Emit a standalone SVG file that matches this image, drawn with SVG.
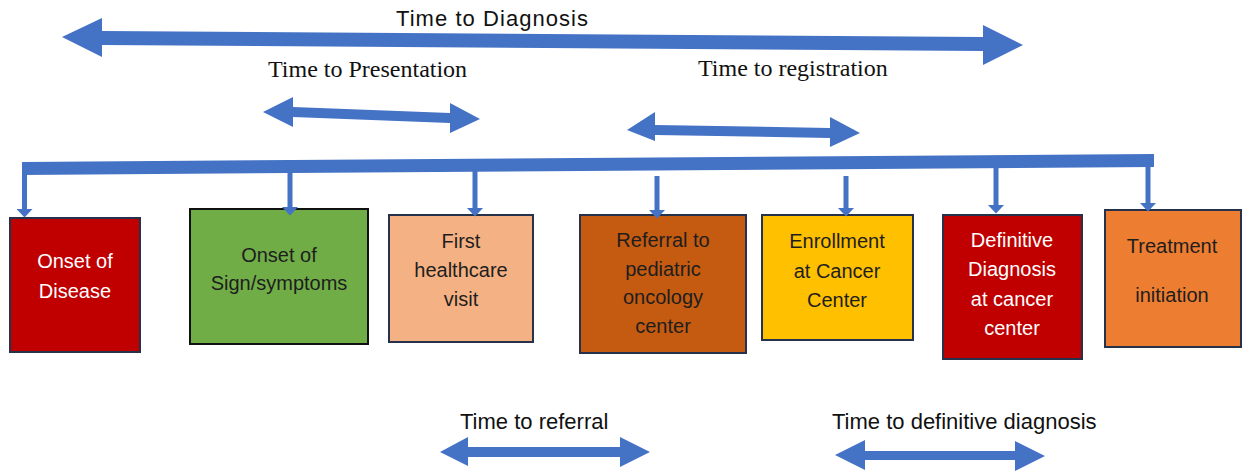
<svg xmlns="http://www.w3.org/2000/svg" width="1243" height="474" viewBox="0 0 1243 474">
<style>
.arw{fill:#4472C4}
.drop{stroke:#4472C4;stroke-width:5;fill:none}
.box{stroke:#26324C;stroke-width:2}
.lbl{font-family:"Liberation Sans",Arial,sans-serif;font-size:20px;text-anchor:middle;fill:#1E1E1E}
.wt{fill:#FFFFFF}
.serif{font-family:"Liberation Serif","Times New Roman",serif;font-size:24px;fill:#111}
.sans{font-family:"Liberation Sans",Arial,sans-serif;font-size:22px;fill:#111}
</style>
<defs>
<marker id="dh" markerUnits="userSpaceOnUse" markerWidth="10" markerHeight="16" refX="0" refY="7" orient="auto" viewBox="0 0 8 14">
<path d="M0,0 L7.5,7 L0,14 Z" fill="#4472C4"/>
</marker>
</defs>
<rect width="1243" height="474" fill="#FFFFFF"/>
<g id="labels">
<text class="sans" x="396" y="26" font-size="23" textLength="192">Time to Diagnosis</text>
<text class="serif" x="268" y="77">Time to Presentation</text>
<text class="serif" x="698" y="76">Time to registration</text>
<text class="sans" x="460" y="429">Time to referral</text>
<text class="sans" x="832" y="429">Time to definitive diagnosis</text>
</g>
<g id="onset-disease">
<rect class="box" x="10" y="218" width="130" height="134" fill="#C00000"/>
<text class="lbl wt" x="75" y="268">Onset of</text>
<text class="lbl wt" x="75" y="298">Disease</text>
</g>
<g id="onset-symptoms">
<rect x="190" y="209" width="178" height="135" fill="#70AD47" stroke="#111" stroke-width="2"/>
<text class="lbl" x="279" y="262">Onset of</text>
<text class="lbl" x="279" y="290">Sign/symptoms</text>
</g>
<g id="first-visit">
<rect class="box" x="389" y="215" width="144" height="127" fill="#F4B183"/>
<text class="lbl" x="461" y="248">First</text>
<text class="lbl" x="461" y="277">healthcare</text>
<text class="lbl" x="461" y="306">visit</text>
</g>
<g id="referral">
<rect class="box" x="580" y="215" width="166" height="138" fill="#C55A11"/>
<text class="lbl" x="663" y="247">Referral to</text>
<text class="lbl" x="663" y="276">pediatric</text>
<text class="lbl" x="663" y="304">oncology</text>
<text class="lbl" x="663" y="333">center</text>
</g>
<g id="enrollment">
<rect class="box" x="762" y="215" width="151" height="125" fill="#FFC000"/>
<text class="lbl" x="837" y="248">Enrollment</text>
<text class="lbl" x="837" y="278">at Cancer</text>
<text class="lbl" x="837" y="307">Center</text>
</g>
<g id="definitive-diagnosis">
<rect class="box" x="943" y="215" width="139" height="144" fill="#C00000"/>
<text class="lbl wt" x="1012" y="247">Definitive</text>
<text class="lbl wt" x="1012" y="276">Diagnosis</text>
<text class="lbl wt" x="1012" y="306">at cancer</text>
<text class="lbl wt" x="1012" y="335">center</text>
</g>
<g id="treatment">
<rect class="box" x="1105" y="210" width="136" height="137" fill="#ED7D31"/>
<text class="lbl" x="1172" y="253">Treatment</text>
<text class="lbl" x="1172" y="302">initiation</text>
</g>
<g id="connectors">
<polygon class="arw" points="62,37 102,18 102,31 983,37 983,25 1023,45 983,65 983,51 102,45 102,57"/>
<polygon class="arw" points="263,112 293,97 293,107 450,113 450,103 480,119 450,133 450,123 293,117 293,127"/>
<polygon class="arw" points="627,130 655,112 655,125 830,128 830,117 860,133 830,147 830,138 655,135 655,141"/>
<polygon class="arw" points="440,452 468,437 468,447 620,447 620,437 650,452 620,467 620,457 468,457 468,466"/>
<polygon class="arw" points="835,455 865,440 865,451 1015,451 1015,441 1045,456 1015,471 1015,460 865,460 865,470"/>
<polygon class="arw" points="22,162 1154,154 1154,167 22,175"/>
<line class="drop" x1="24.5" y1="170" x2="24.5" y2="209" marker-end="url(#dh)"/>
<line class="drop" x1="290" y1="170" x2="290" y2="207" marker-end="url(#dh)"/>
<line class="drop" x1="475" y1="170" x2="475" y2="208" marker-end="url(#dh)"/>
<line class="drop" x1="657" y1="176" x2="657" y2="210" marker-end="url(#dh)"/>
<line class="drop" x1="846" y1="176" x2="846" y2="208" marker-end="url(#dh)"/>
<line class="drop" x1="996" y1="166" x2="996" y2="205" marker-end="url(#dh)"/>
<line class="drop" x1="1148" y1="165" x2="1148" y2="203" marker-end="url(#dh)"/>
</g>
</svg>
